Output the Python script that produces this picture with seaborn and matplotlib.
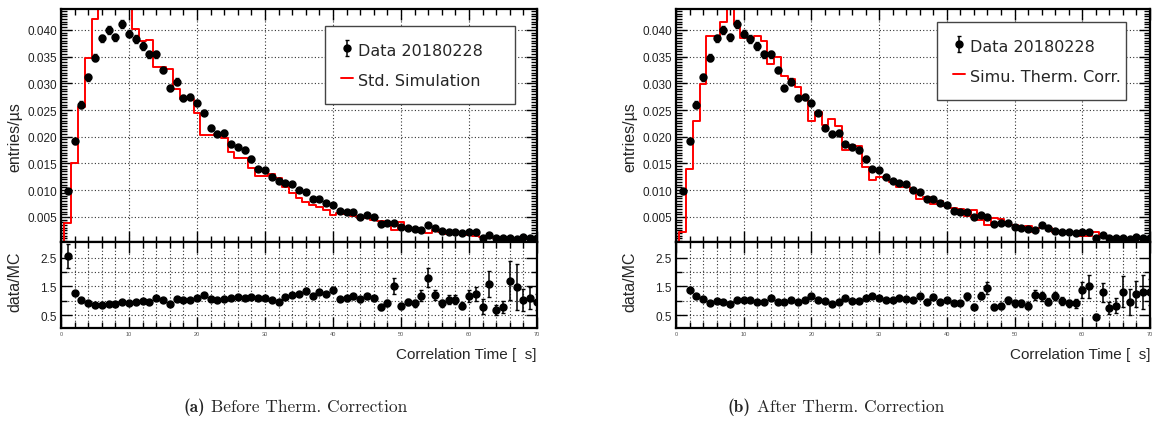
import numpy as np
import pandas as pd
import matplotlib
matplotlib.use("Agg")
import matplotlib.pyplot as plt
from matplotlib.ticker import MultipleLocator, FixedLocator, FormatStrFormatter
from matplotlib.lines import Line2D
import seaborn as sns

sns.set_theme(style="white")
plt.rcParams["font.family"] = ["Liberation Sans", "DejaVu Sans"]

# correlation time bins, 1 us wide
bin_centres = np.arange(1, 71)

data_2018 = [0.0098, 0.0192, 0.0260, 0.0311, 0.0348, 0.0384, 0.0400, 0.0386, 0.0411, 0.0393,
             0.0383, 0.0370, 0.0354, 0.0354, 0.0325, 0.0291, 0.0303, 0.0273, 0.0274, 0.0263,
             0.0245, 0.0217, 0.0206, 0.0207, 0.0186, 0.0180, 0.0175, 0.0158, 0.0139, 0.0137,
             0.0124, 0.0117, 0.0114, 0.0111, 0.0100, 0.0096, 0.0084, 0.0084, 0.0076, 0.0073,
             0.0061, 0.0059, 0.0059, 0.0050, 0.0053, 0.0050, 0.0037, 0.0038, 0.0039, 0.0032,
             0.0029, 0.0027, 0.0026, 0.0035, 0.0029, 0.0024, 0.0021, 0.0021, 0.0019, 0.0021,
             0.0021, 0.0010, 0.0016, 0.0010, 0.0010, 0.0010, 0.0009, 0.0012, 0.0010, 0.0010]
data_err = [0.0004, 0.0005, 0.0006, 0.0006, 0.0006, 0.0007, 0.0007, 0.0007, 0.0007, 0.0007,
            0.0007, 0.0007, 0.0006, 0.0006, 0.0006, 0.0006, 0.0006, 0.0006, 0.0006, 0.0006,
            0.0005, 0.0005, 0.0005, 0.0005, 0.0005, 0.0005, 0.0005, 0.0005, 0.0004, 0.0004,
            0.0004, 0.0004, 0.0004, 0.0004, 0.0004, 0.0004, 0.0003, 0.0003, 0.0003, 0.0003,
            0.0003, 0.0003, 0.0003, 0.0003, 0.0003, 0.0003, 0.0003, 0.0003, 0.0003, 0.0002,
            0.0002, 0.0002, 0.0002, 0.0002, 0.0002, 0.0002, 0.0002, 0.0002, 0.0002, 0.0002,
            0.0002, 0.0002, 0.0002, 0.0002, 0.0002, 0.0002, 0.0002, 0.0002, 0.0002, 0.0002]

sim_std = [0.0039, 0.0150, 0.0255, 0.0347, 0.0420, 0.0468, 0.0470, 0.0449, 0.0457, 0.0445,
           0.0402, 0.0379, 0.0381, 0.0331, 0.0331, 0.0327, 0.0289, 0.0271, 0.0271, 0.0244,
           0.0204, 0.0204, 0.0206, 0.0197, 0.0171, 0.0161, 0.0161, 0.0141, 0.0127, 0.0127,
           0.0130, 0.0122, 0.0106, 0.0095, 0.0085, 0.0077, 0.0073, 0.0069, 0.0063, 0.0053,
           0.0057, 0.0055, 0.0052, 0.0048, 0.0047, 0.0045, 0.0042, 0.0039, 0.0026, 0.0040,
           0.0029, 0.0027, 0.0021, 0.0020, 0.0026, 0.0021, 0.0018, 0.0018, 0.0018, 0.0016,
           0.0015, 0.0012, 0.0012, 0.0010, 0.0009, 0.0008, 0.0008, 0.0009, 0.0009, 0.0012]
sim_therm = [0.0022, 0.0140, 0.0229, 0.0298, 0.0389, 0.0389, 0.0414, 0.0450, 0.0411, 0.0385,
             0.0385, 0.0388, 0.0379, 0.0336, 0.0349, 0.0313, 0.0308, 0.0293, 0.0274, 0.0229,
             0.0246, 0.0222, 0.0233, 0.0220, 0.0176, 0.0185, 0.0182, 0.0144, 0.0119, 0.0125,
             0.0123, 0.0116, 0.0105, 0.0106, 0.0099, 0.0083, 0.0087, 0.0075, 0.0080, 0.0070,
             0.0067, 0.0065, 0.0051, 0.0063, 0.0045, 0.0034, 0.0048, 0.0046, 0.0039, 0.0035,
             0.0032, 0.0033, 0.0022, 0.0030, 0.0030, 0.0021, 0.0021, 0.0023, 0.0021, 0.0015,
             0.0014, 0.0022, 0.0012, 0.0013, 0.0012, 0.0008, 0.0009, 0.0010, 0.0008, 0.0008]

ratio_std = [2.57, 1.28, 1.03, 0.92, 0.85, 0.85, 0.88, 0.88, 0.95, 0.92,
             0.97, 0.99, 0.95, 1.09, 1.02, 0.90, 1.06, 1.03, 1.03, 1.10,
             1.21, 1.06, 1.03, 1.06, 1.08, 1.12, 1.10, 1.14, 1.11, 1.08,
             1.01, 0.97, 1.12, 1.19, 1.22, 1.34, 1.18, 1.30, 1.24, 1.36,
             1.06, 1.08, 1.15, 1.05, 1.15, 1.08, 0.77, 0.92, 1.51, 0.82,
             0.96, 0.92, 1.18, 1.81, 1.21, 0.92, 1.04, 1.04, 0.83, 1.16,
             1.24, 0.79, 1.59, 0.68, 0.79, 1.69, 1.48, 1.04, 1.09, 0.95]
ratio_std_err = [0.42, 0.05, 0.04, 0.04, 0.04, 0.04, 0.04, 0.04, 0.04, 0.04,
                 0.04, 0.04, 0.04, 0.04, 0.05, 0.05, 0.05, 0.05, 0.05, 0.05,
                 0.05, 0.05, 0.05, 0.05, 0.05, 0.06, 0.06, 0.06, 0.06, 0.06,
                 0.06, 0.06, 0.07, 0.07, 0.07, 0.09, 0.07, 0.08, 0.08, 0.09,
                 0.08, 0.08, 0.09, 0.09, 0.09, 0.09, 0.09, 0.10, 0.27, 0.10,
                 0.11, 0.12, 0.18, 0.33, 0.17, 0.12, 0.17, 0.17, 0.12, 0.22,
                 0.25, 0.26, 0.46, 0.17, 0.20, 0.68, 0.80, 0.38, 0.38, 0.27]
ratio_therm = [4.45, 1.39, 1.15, 1.06, 0.91, 0.99, 0.97, 0.88, 1.02, 1.03,
               1.02, 0.97, 0.95, 1.08, 0.95, 0.95, 1.01, 0.95, 1.02, 1.17,
               1.02, 0.99, 0.90, 0.97, 1.08, 0.99, 0.98, 1.11, 1.17, 1.11,
               1.01, 1.01, 1.09, 1.05, 1.01, 1.16, 0.97, 1.12, 0.95, 1.04,
               0.91, 0.91, 1.16, 0.79, 1.17, 1.45, 0.77, 0.82, 1.01, 0.92,
               0.92, 0.83, 1.19, 1.15, 0.96, 1.17, 0.99, 0.91, 0.91, 1.38,
               1.51, 0.45, 1.30, 0.75, 0.83, 1.32, 0.97, 1.24, 1.30, 1.30]
ratio_therm_err = [0.30, 0.10, 0.05, 0.05, 0.05, 0.05, 0.05, 0.05, 0.05, 0.05,
                   0.05, 0.05, 0.05, 0.05, 0.05, 0.05, 0.05, 0.05, 0.05, 0.05,
                   0.05, 0.05, 0.05, 0.05, 0.05, 0.05, 0.06, 0.06, 0.06, 0.06,
                   0.07, 0.07, 0.07, 0.07, 0.07, 0.07, 0.07, 0.07, 0.07, 0.07,
                   0.07, 0.07, 0.12, 0.08, 0.12, 0.20, 0.08, 0.10, 0.12, 0.12,
                   0.12, 0.12, 0.17, 0.15, 0.12, 0.15, 0.13, 0.13, 0.15, 0.28,
                   0.40, 0.10, 0.33, 0.20, 0.25, 0.55, 0.45, 0.45, 0.60, 0.45]

W, H = 1155, 435
fig = plt.figure(figsize=(W / 100, H / 100), dpi=100)
GRID = dict(linestyle=(0, (1, 2)), color="#333333", linewidth=0.8)


def style_axes(a):
    a.xaxis.set_major_locator(MultipleLocator(10))
    a.xaxis.set_minor_locator(MultipleLocator(2))
    a.tick_params(which="both", direction="in", top=True, right=True,
                  bottom=True, left=True, width=1.0, color="black")
    a.tick_params(which="major", length=8)
    a.tick_params(which="minor", length=4)
    for s in a.spines.values():
        s.set_linewidth(1.6)
        s.set_color("black")
    a.set_xlim(0, 70)
    a.set_xlabel("")


def draw_panel(x0, x1, sim, ratio, ratio_err, sim_label, leg_xy, tag, caption, cap_x):
    ax = fig.add_axes([x0 / W, 1 - 243 / H, (x1 - x0) / W, 233 / H])
    rx = fig.add_axes([x0 / W, 1 - 329 / H, (x1 - x0) / W, 86 / H])

    # simulation histogram, one entry per 1 us bin weighted by its content
    hist_df = pd.DataFrame({"t": bin_centres, "w": sim})
    sns.histplot(data=hist_df, x="t", weights="w", binwidth=1, binrange=(0.5, 70.5),
                 element="step", fill=False, color="red", linewidth=1.4, ax=ax)
    ax.vlines(bin_centres[0] - 0.5, 0, sim[0], color="red", linewidth=1.4)
    eb = ax.errorbar(bin_centres, data_2018, yerr=data_err, fmt="o", color="black",
                     ms=5, elinewidth=1.1, capsize=1.5, zorder=3)

    style_axes(ax)
    ax.set_ylim(0.0003, 0.0439)
    ax.yaxis.set_major_locator(MultipleLocator(0.005))
    ax.yaxis.set_minor_locator(MultipleLocator(0.0005))
    ax.yaxis.set_major_formatter(FormatStrFormatter("%.3f"))
    ax.tick_params(axis="x", labelbottom=False)
    ax.tick_params(axis="y", labelsize=8.5, labelcolor="#222222", pad=3)
    ax.grid(True, which="major", **GRID)
    ax.set_ylabel("entries/µs", fontsize=11.5)
    ax.yaxis.set_label_coords(-0.082, 0.455)

    sim_handle = Line2D([], [], color="red", lw=1.4)
    leg = ax.legend([eb, sim_handle], ["Data 20180228", sim_label],
                    loc="upper left", bbox_to_anchor=(leg_xy[0], leg_xy[1], 0.398, 0),
                    mode="expand", borderaxespad=0, borderpad=1.0, handlelength=0.75,
                    handleheight=1.0, handletextpad=0.3, labelspacing=0.9,
                    numpoints=1, fancybox=False, framealpha=1,
                    prop={"family": "DejaVu Sans", "size": 11.5})
    leg.get_frame().set_edgecolor("#444444")
    leg.get_frame().set_linewidth(1.0)

    # data / MC ratio
    rx.errorbar(bin_centres, ratio, yerr=ratio_err, fmt="o", color="black",
                ms=5, elinewidth=1.1, capsize=1.5)
    style_axes(rx)
    rx.set_ylim(0.05, 3.05)
    rx.yaxis.set_major_locator(FixedLocator([0.5, 1.5, 2.5]))
    rx.yaxis.set_minor_locator(FixedLocator([1.0, 2.0]))
    rx.yaxis.set_major_formatter(FormatStrFormatter("%.1f"))
    rx.tick_params(axis="y", labelsize=8.5, labelcolor="#222222", pad=3)
    rx.tick_params(axis="x", labelsize=4, labelcolor="#555555", pad=2)
    rx.grid(True, which="both", **GRID)
    rx.set_ylabel("data/MC", fontsize=11.5)
    rx.yaxis.set_label_coords(-0.082, 0.55)

    fig.text(x1 / W, 1 - 355 / H, "Correlation Time [  s]", ha="right", va="center",
             fontsize=11)
    fig.text(cap_x[0] / W, 1 - 407 / H, tag, ha="right", va="center",
             family="cmb10", fontsize=12.5)
    fig.text(cap_x[1] / W, 1 - 407 / H, caption, ha="left", va="center",
             family="cmr10", fontsize=12.5)


draw_panel(61, 537, sim_std, ratio_std, ratio_std_err, "Std. Simulation",
           (0.555, 0.927), "(a)", "Before Therm. Correction", (205, 211))
draw_panel(676, 1150, sim_therm, ratio_therm, ratio_therm_err, "Simu. Therm. Corr.",
           (0.551, 0.944), "(b)", "After Therm. Correction", (751, 757))

fig.savefig("out.png", dpi=100)
